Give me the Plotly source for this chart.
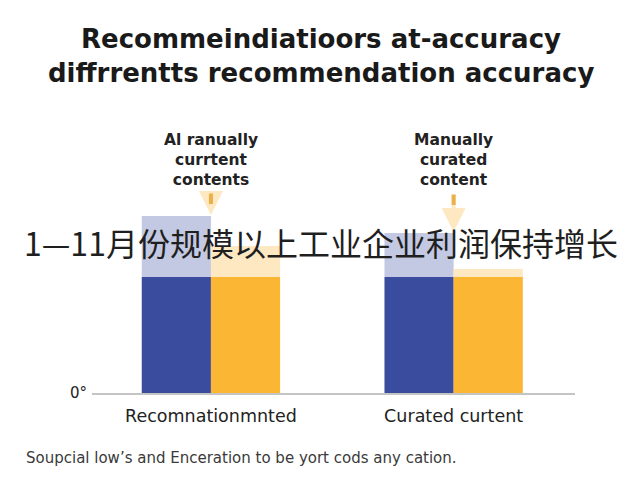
import plotly.graph_objects as go

categories = ["Recomnationmnted", "Curated curtent"]
blue_base = [58, 58]
blue_total = [88.5, 80]
yellow_base = [58, 58]
yellow_total = [73.5, 62]
callouts = ["Al ranually<br>currtent<br>contents", "Manually<br>curated<br>content"]
title_lines = ["Recommeindiatioors at-accuracy", "diffrrentts recommendation accuracy"]
overlay_text = "1—11月份规模以上工业企业利润保持增长"
caption = "Soupcial low’s and Enceration to be yort cods any cation."

DARK_BLUE = "#3a4c9e"
LIGHT_BLUE = "#c3c9e2"
YELLOW = "#fbb634"
LIGHT_YELLOW = "#fde8c2"
FONT = "DejaVu Sans"

xs = list(range(len(categories)))
W = 0.285

fig = go.Figure()
fig.add_trace(go.Bar(x=xs, y=[t - b for t, b in zip(blue_total, blue_base)], base=blue_base,
                     offset=-W, width=W, marker=dict(color=LIGHT_BLUE, line_width=0)))
fig.add_trace(go.Bar(x=xs, y=[t - b for t, b in zip(yellow_total, yellow_base)], base=yellow_base,
                     offset=0, width=W, marker=dict(color=LIGHT_YELLOW, line_width=0)))
fig.add_trace(go.Bar(x=xs, y=blue_base, offset=-W, width=W, marker=dict(color=DARK_BLUE, line_width=0)))
fig.add_trace(go.Bar(x=xs, y=yellow_base, offset=0, width=W, marker=dict(color=YELLOW, line_width=0)))

annotations = []
arrow_len = [24, 40]
for i, (txt, top) in enumerate(zip(callouts, blue_total)):
    annotations.append(dict(x=i, y=1.165, xref="x", yref="paper", text=txt, showarrow=False,
                            font=dict(family=FONT, size=15.5, color="#222222", weight="bold"),
                            align="center", yanchor="middle"))
    annotations.append(dict(x=i, y=top, xref="x", yref="y", ax=0, ay=-arrow_len[i], text="",
                            showarrow=True, arrowhead=2, arrowsize=1.2, arrowwidth=4,
                            arrowcolor=LIGHT_YELLOW, standoff=1))
    annotations.append(dict(x=i, y=top, xref="x", yref="y", ax=0, ay=-arrow_len[i], text="",
                            showarrow=True, arrowhead=0, arrowwidth=4,
                            arrowcolor="#eab04a", standoff=arrow_len[i] - 12))

for line, yp in zip(title_lines, [1.772, 1.602]):
    annotations.append(dict(x=0.5, y=yp, xref="paper", yref="paper", xshift=-13, text=line, showarrow=False,
                            font=dict(family=FONT, size=26, color="#1a1a1a", weight="bold"),
                            yanchor="middle"))

annotations.append(dict(x=0.5, y=0.755, xref="paper", yref="paper", xshift=-13, text=overlay_text, showarrow=False,
                        font=dict(family="Noto Sans CJK SC", size=32, color="#1f1f1f"), yanchor="middle"))
annotations.append(dict(x=0, y=-0.325, xref="paper", yref="paper", xshift=-68, text=caption, showarrow=False,
                        font=dict(family=FONT, size=15, color="#3a3a3a"),
                        xanchor="left", yanchor="middle"))

fig.update_layout(
    width=640, height=480,
    margin=dict(l=84, r=73, t=185, b=95),
    paper_bgcolor="white", plot_bgcolor="white",
    showlegend=False, barmode="overlay",
    annotations=annotations,
    xaxis=dict(range=[-0.49, 1.5], tickvals=xs, ticktext=categories, showgrid=False, zeroline=False,
               showline=True, linecolor="#c4c4c4", linewidth=1.5, ticks="", ticklabelstandoff=6,
               tickfont=dict(family=FONT, size=17.5, color="#222222")),
    yaxis=dict(range=[0, 100], tickvals=[0], ticktext=["0°"], showgrid=False, zeroline=False,
               showline=False, ticks="", ticklabelstandoff=4,
               tickfont=dict(family=FONT, size=15, color="#222222")),
)

fig.write_html("out.html")
